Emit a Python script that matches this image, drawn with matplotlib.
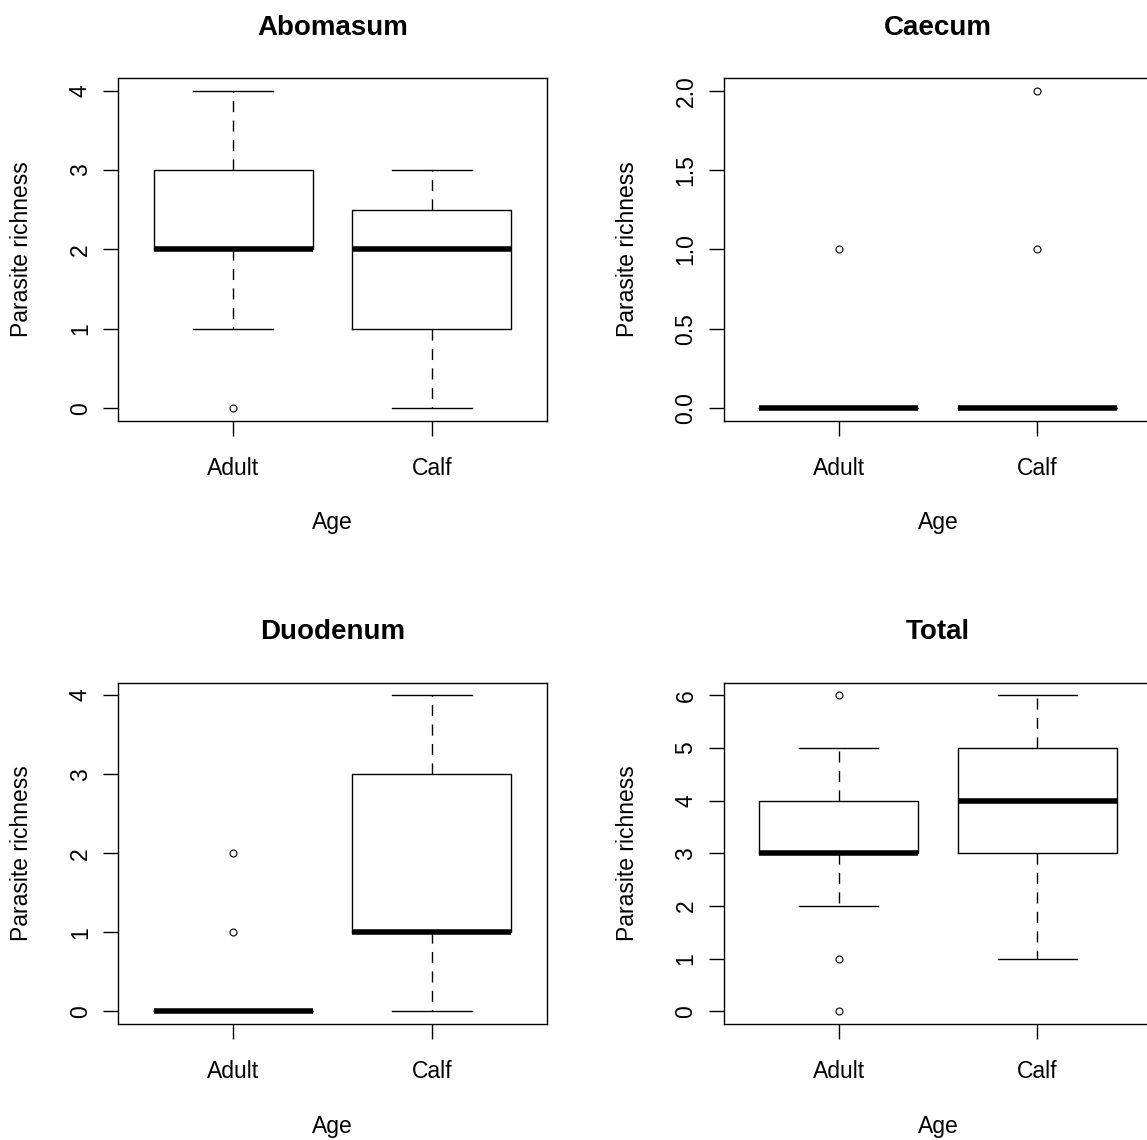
import numpy as np
import matplotlib
matplotlib.use('Agg')
import matplotlib.pyplot as plt

plt.rcParams['font.family'] = ['Liberation Sans', 'DejaVu Sans']

# box statistics, one row per panel: [Adult, Calf]
panels = ['Abomasum', 'Caecum', 'Duodenum', 'Total']
groups = ['Adult', 'Calf']
whisk_lo = [[1, 0], [0, 0], [0, 0], [2, 1]]
q1 = [[2, 1], [0, 0], [0, 1], [3, 3]]
med = [[2, 2], [0, 0], [0, 1], [3, 4]]
q3 = [[3, 2.5], [0, 0], [0, 3], [4, 5]]
whisk_hi = [[4, 3], [0, 0], [0, 4], [5, 6]]
outliers = [[[0], []], [[1], [1, 2]], [[1, 2], []], [[0, 1, 6], []]]
yticks = [[0, 1, 2, 3, 4], [0, 0.5, 1, 1.5, 2], [0, 1, 2, 3, 4], [0, 1, 2, 3, 4, 5, 6]]
ytick_labels = [['0', '1', '2', '3', '4'],
                ['0.0', '0.5', '1.0', '1.5', '2.0'],
                ['0', '1', '2', '3', '4'],
                ['0', '1', '2', '3', '4', '5', '6']]

W, H = 1147, 1140
fig = plt.figure(figsize=(W / 100, H / 100), dpi=100)

# axes boxes in pixels: left, top, right, bottom
boxes = [(118, 78, 547, 421), (723.5, 78, 1152.5, 421),
         (118, 682.5, 547, 1024), (723.5, 682.5, 1152.5, 1024)]

fs = 16.5
for k, name in enumerate(panels):
    l, t, r, b = boxes[k]
    ax = fig.add_axes([l / W, 1 - b / H, (r - l) / W, (b - t) / H])

    stats = []
    for i in range(2):
        stats.append(dict(whislo=whisk_lo[k][i], q1=q1[k][i], med=med[k][i],
                          q3=q3[k][i], whishi=whisk_hi[k][i],
                          fliers=outliers[k][i], label=groups[i]))
    ax.bxp(stats, positions=[1, 2], widths=0.8, capwidths=0.4, manage_ticks=False,
           boxprops=dict(color='black', linewidth=1.0),
           whiskerprops=dict(color='black', linewidth=1.0, linestyle=(0, (8, 6))),
           capprops=dict(color='black', linewidth=1.0),
           medianprops=dict(color='black', linewidth=4.0, solid_capstyle='butt'),
           flierprops=dict(marker='o', markerfacecolor='none', markeredgecolor='black',
                           markersize=5, markeredgewidth=0.8))

    vals = [v for i in range(2) for v in
            [whisk_lo[k][i], whisk_hi[k][i]] + list(outliers[k][i])]
    lo, hi = min(vals), max(vals)
    pad = (hi - lo) * 0.04
    ax.set_ylim(lo - pad, hi + pad)
    ax.set_xlim(0.42, 2.58)

    ax.set_xticks([1, 2])
    ax.set_xticklabels(groups)
    ax.set_yticks(yticks[k])
    ax.set_yticklabels(ytick_labels[k], rotation=90, va='center')
    ax.tick_params(axis='both', direction='out', length=10.8, width=1.0,
                   labelsize=fs, color='black')
    ax.tick_params(axis='x', pad=15)
    ax.tick_params(axis='y', pad=8)
    for s in ax.spines.values():
        s.set_linewidth(1.0)
        s.set_color('black')

    ax.set_title(name, fontsize=20, fontweight='bold', pad=31)
    ax.set_xlabel('Age', fontsize=fs)
    ax.set_ylabel('Parasite richness', fontsize=fs)
    ax.xaxis.set_label_coords(0.5, -102 / (b - t))
    ax.xaxis.label.set_verticalalignment('center')
    ax.yaxis.set_label_coords(-96 / (r - l), 0.5)
    ax.yaxis.label.set_verticalalignment('center')

fig.savefig('out.png', dpi=100, facecolor='white')
